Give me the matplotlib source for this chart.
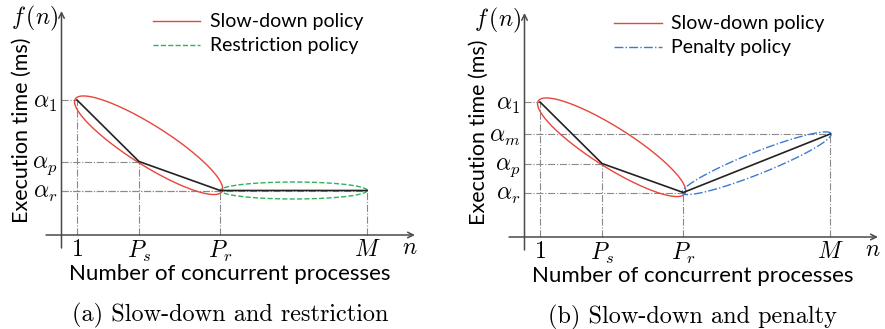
import numpy as np
import matplotlib
matplotlib.use("Agg")
import matplotlib.pyplot as plt

plt.rcParams['font.family'] = ['Lato', 'DejaVu Sans']
plt.rcParams['mathtext.fontset'] = 'cm'

# positions of the named points on the two axes (arbitrary units)
x_names = ['$1$', '$P_s$', '$P_r$', '$M$']
x_vals = [1, 3, 5.62, 10.36]

a1, am, ap, ar = 13.5, 10.3, 7.35, 4.45

y_names_a = [r'$\alpha_1$', r'$\alpha_p$', r'$\alpha_r$']
y_vals_a = [a1, ap, ar]
y_names_b = [r'$\alpha_1$', r'$\alpha_m$', r'$\alpha_p$', r'$\alpha_r$']
y_vals_b = [a1, am, ap, ar]

curve_a = [a1, ap, ar, ar]
curve_b = [a1, ap, ar, am]

SX, SY = 31.0, 10.0   # px per unit, so the ellipses come out round-ish

RED = '#e8453c'
GREEN = '#2fb35a'
BLUE = '#3a7bd0'
GUIDE = '#8a8a8a'
AXC = '#4a4a4a'


def ellipse(p, q, b, over=2.0):
    x1, y1 = p[0] * SX, p[1] * SY
    x2, y2 = q[0] * SX, q[1] * SY
    cx, cy = (x1 + x2) / 2, (y1 + y2) / 2
    dx, dy = x2 - x1, y2 - y1
    L = np.hypot(dx, dy)
    ux, uy = dx / L, dy / L
    vx, vy = -uy, ux
    a = L / 2 + over
    t = np.linspace(0, 2 * np.pi, 300)
    X = cx + a * np.cos(t) * ux + b * np.sin(t) * vx
    Y = cy + a * np.cos(t) * uy + b * np.sin(t) * vy
    return X / SX, Y / SY


def panel(ax, y_names, y_vals, curve, second, caption, hx, hy_top):
    ax.set_xlim(-0.1935, 12.065)
    ax.set_ylim(-2, 23)
    for s in ax.spines.values():
        s.set_visible(False)
    ax.spines['bottom'].set_position(('data', 0))
    ax.spines['left'].set_position(('data', 0.5))

    ax.set_xticks(x_vals, x_names, fontsize=17)
    ax.set_yticks(y_vals, y_names, fontsize=17)
    ax.tick_params(length=0, pad=3)
    ax.tick_params(axis='x', pad=3)

    # axes with arrows
    ax.annotate('', xy=(0.5, 22.4), xytext=(0.5, -1.3),
                arrowprops=dict(arrowstyle='->', lw=1.1, color=AXC,
                                shrinkA=0, shrinkB=0))
    ax.annotate('', xy=(11.9, 0), xytext=(0.0, 0),
                arrowprops=dict(arrowstyle='->', lw=1.1, color=AXC,
                                shrinkA=0, shrinkB=0))
    ax.text(11.75, -1.3, '$n$', fontsize=17, ha='center', va='center')
    ax.text(-0.38, 21.7, '$f\\,(n)$', fontsize=17, ha='center', va='center')

    # guide lines
    for xv, yv in zip(x_vals, curve):
        ax.plot([xv, xv], [0, yv], ls='-.', lw=0.8, color=GUIDE)
        ax.plot([0.5, xv], [yv, yv], ls='-.', lw=0.8, color=GUIDE)

    ex, ey = ellipse((x_vals[0], curve[0]), (x_vals[2], curve[2]), 20)
    ax.plot(ex, ey, color=RED, lw=1.0, label='Slow-down policy')
    if second == 'restriction':
        ex, ey = ellipse((x_vals[2], curve[2]), (x_vals[3], curve[3]), 8.5, over=0)
        ax.plot(ex, ey, color=GREEN, lw=1.0, ls='--', label='Restriction policy')
    else:
        ex, ey = ellipse((x_vals[2], curve[2]), (x_vals[3], curve[3]), 11, over=1)
        ax.plot(ex, ey, color=BLUE, lw=1.0, ls='-.', label='Penalty policy')

    ax.plot(x_vals, curve, color='#222222', lw=1.2)

    ax.legend(loc='upper left', bbox_to_anchor=(hx, hy_top), frameon=False,
              fontsize=14, handlelength=2.45, handletextpad=0.5,
              labelspacing=0.36, borderpad=0, borderaxespad=0)

    ax.set_xlabel('Number of concurrent processes', fontsize=16, labelpad=0)
    ax.set_ylabel('Execution time (ms)', fontsize=15.5, labelpad=0)
    ax.text(0.5, -0.24, caption, transform=ax.transAxes, ha='center',
            va='center', fontsize=17.5, family='cmr10')


fig = plt.figure(figsize=(8.85, 3.29), dpi=100)
ax1 = fig.add_axes([40 / 885, 74 / 329, 380 / 885, 250 / 329])
ax2 = fig.add_axes([503 / 885, 72 / 329, 380 / 885, 250 / 329])

panel(ax1, y_names_a, y_vals_a, curve_a, 'restriction',
      '(a) Slow-down and restriction', 0.297, 0.966)
panel(ax2, y_names_b, y_vals_b, curve_b, 'penalty',
      '(b) Slow-down and penalty', 0.292, 0.966)

fig.savefig('out.png', dpi=100)
